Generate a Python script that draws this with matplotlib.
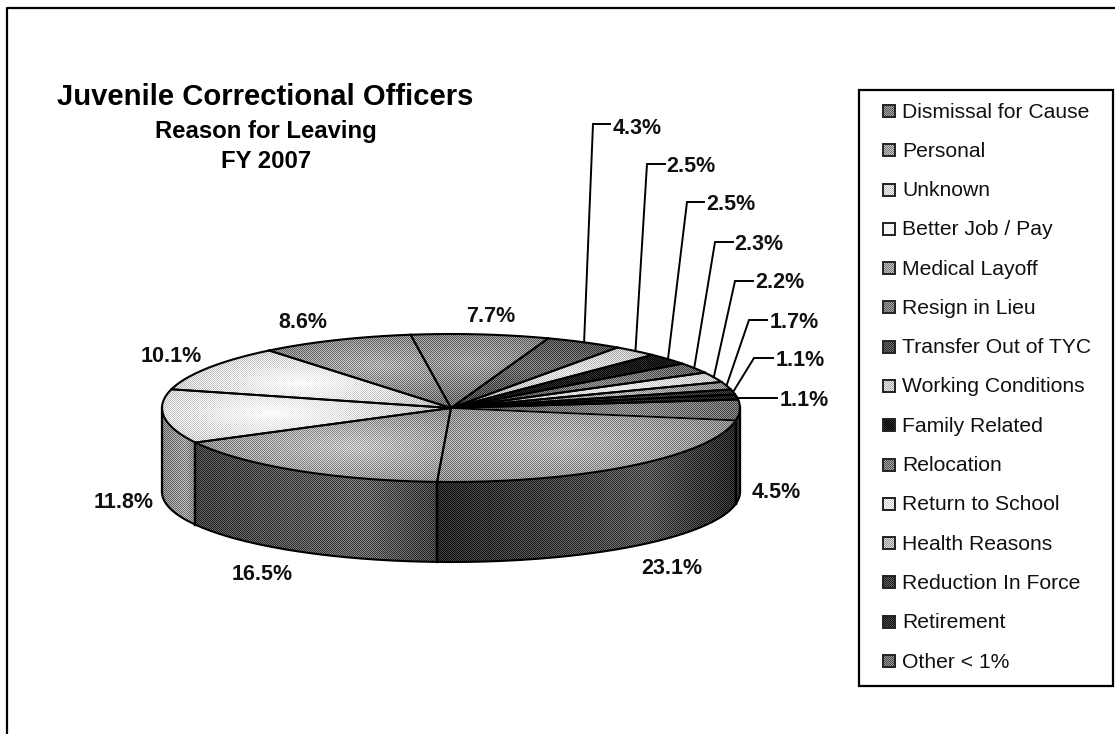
import numpy as np
import matplotlib
matplotlib.use("Agg")
import matplotlib.pyplot as plt
from matplotlib.patches import PathPatch, Rectangle
from matplotlib.path import Path

plt.rcParams['font.family'] = ['Liberation Sans', 'DejaVu Sans']

# share of separations by reason, FY 2007
reasons = ['Dismissal for Cause', 'Personal', 'Unknown', 'Better Job / Pay', 'Medical Layoff',
           'Resign in Lieu', 'Transfer Out of TYC', 'Working Conditions', 'Family Related',
           'Relocation', 'Return to School', 'Health Reasons', 'Reduction In Force',
           'Retirement', 'Other < 1%']
shares = [23.1, 16.5, 11.8, 10.1, 8.6, 7.7, 4.3, 2.5, 2.5, 2.3, 2.2, 1.7, 1.1, 1.1, 4.5]

# grey levels: slice centre, slice edge, side centre, side edge, legend swatch
top_light = [.70, .76, 1.0, 1.0, .68, .62, .42, .88, .12, .50, .92, .70, .26, .18, .52]
top_dark = [.42, .42, .72, .72, .42, .42, .30, .75, .08, .38, .80, .55, .18, .12, .38]
side_light = [.33, .38, .60, .60, .30, .30, .30, .30, .30, .30, .30, .30, .30, .30, .24]
side_dark = [.15, .25, .50, .50, .30, .30, .30, .30, .30, .30, .30, .30, .30, .30, .18]
swatch = [.50, .62, .85, .97, .62, .50, .30, .80, .08, .48, .90, .72, .25, .18, .45]

# label anchor (centre) and leader elbow for each slice
label_xy = [(672, 568), (262, 574), (124, 503), (171, 357), (303, 323), (491, 316),
            (637, 128), (691, 166), (731, 204), (759, 244), (780, 282), (794, 322),
            (800, 360), (804, 400), (776, 493)]
elbows = [None, None, None, None, None, None,
          (593, 124), (647, 164), (687, 202), (715, 242), (735, 281), (749, 320),
          (754, 358), (738, 398), None]
leader_ends = [None, None, None, None, None, None,
               (610, 124), (665, 164), (704, 202), (733, 242), (753, 281), (767, 320),
               (773, 358), (777, 398), None]

W, H = 1115, 734
CX, CY, RX, RY = 451, 408, 289, 74      # top face
BY, BRY = 492, 70                       # bottom rim, a little flatter
START = -9.6

fig = plt.figure(figsize=(W / 100, H / 100), dpi=100)
ax = fig.add_axes([0, 0, 1, 1])
ax.set_xlim(0, W)
ax.set_ylim(H, 0)
ax.axis('off')

X, Y = np.meshgrid(np.arange(W) + .5, np.arange(H) + .5)
checker = (np.indices((H, W)).sum(axis=0) % 2) * 2 - 1


def rim(t, cy=CY, ry=RY):
    t = np.radians(t)
    return np.column_stack([CX + RX * np.cos(t), cy - ry * np.sin(t)])


def fill_dithered(gray, verts):
    # checkerboard halftone, strongest in the mid greys
    amp = .16 * np.sqrt(np.clip(gray * (1 - gray) * 4, 0, 1))
    img = np.clip(gray + checker * amp, 0, 1)
    im = ax.imshow(img, cmap='gray', vmin=0, vmax=1, extent=(0, W, H, 0),
                   interpolation='nearest', aspect='auto', zorder=2)
    clip = PathPatch(Path(verts), transform=ax.transData, fc='none', ec='none')
    ax.add_patch(clip)
    im.set_clip_path(clip)


ends = START - np.cumsum(shares) * 3.6
starts = np.r_[START, ends[:-1]]

# side wall, only the part of each slice facing the viewer
for i in range(len(shares)):
    t0, t1 = starts[i], ends[i]
    # wrap into the front half, -180..0
    lo, hi = max(t1, -180), min(t0, 0)
    if i == len(shares) - 1:
        lo, hi = max(t1 + 360, -180), min(t0 + 360, 0)
    if lo >= hi:
        continue
    ts = np.linspace(hi, lo, 120)
    verts = np.vstack([rim(ts), rim(ts[::-1], BY, BRY)])
    x0, x1 = verts[:, 0].min(), verts[:, 0].max()
    peak = x0 + (x1 - x0) * .7
    s = np.where(X < peak, (peak - X) / (peak - x0 + 1), (X - peak) / (x1 - peak + 1))
    gray = side_light[i] + (side_dark[i] - side_light[i]) * np.clip(s, 0, 1)
    fill_dithered(gray, verts)
    ax.plot(verts[[0, -1], 0], verts[[0, -1], 1], color='k', lw=1.6, zorder=3)
    ax.plot(verts[[119, 120], 0], verts[[119, 120], 1], color='k', lw=1.6, zorder=3)

# top face
for i in range(len(shares)):
    ts = np.linspace(starts[i], ends[i], 120)
    verts = np.vstack([[CX, CY], rim(ts), [CX, CY]])
    mid = np.radians((starts[i] + ends[i]) / 2)
    px, py = .62 * np.cos(mid), .62 * np.sin(mid)
    d = np.hypot((X - CX) / RX - px, (CY - Y) / RY - py)
    reach = max(.3, .6 * np.radians(shares[i] * 3.6) + .3)
    gray = top_light[i] + (top_dark[i] - top_light[i]) * np.clip(d / reach, 0, 1)
    fill_dithered(gray, verts)
    ax.plot(verts[[0, 1], 0], verts[[0, 1], 1], color='#dddddd' if i == 0 else 'k',
            lw=1.4, zorder=4)
    ax.plot(verts[[-2, -1], 0], verts[[-2, -1], 1], color='k', lw=1.4, zorder=4)

# outlines around the drum
ts = np.linspace(0, 360, 400)
ax.plot(*rim(ts).T, color='k', lw=1.5, zorder=5)
front = np.linspace(-180, 0, 200)
ax.plot(*rim(front, BY, BRY).T, color='k', lw=1.5, zorder=5)
for x in (CX - RX, CX + RX):
    ax.plot([x, x], [CY, BY], color='k', lw=1.5, zorder=5)

# percentage labels and leader lines
for i, share in enumerate(shares):
    ax.text(*label_xy[i], f'{share:.1f}%', fontsize=15.5, fontweight='bold',
            ha='center', va='center', color='#111111', zorder=6)
    if elbows[i] is not None:
        mid = (starts[i] + ends[i]) / 2
        p = rim(np.array([mid]))[0]
        ax.plot([p[0], elbows[i][0], leader_ends[i][0]], [p[1], elbows[i][1], leader_ends[i][1]],
                color='k', lw=1.4, zorder=3, solid_joinstyle='miter')

# titles
ax.text(57, 105, 'Juvenile Correctional Officers', fontsize=21.1, fontweight='bold',
        ha='left', va='baseline', color='k')
ax.text(266, 138, 'Reason for Leaving', fontsize=17.2, fontweight='bold',
        ha='center', va='baseline', color='k')
ax.text(266, 168, 'FY 2007', fontsize=17.2, fontweight='bold',
        ha='center', va='baseline', color='k')

# legend box
ax.add_patch(Rectangle((859, 90), 254, 596, fc='white', ec='k', lw=1.6, zorder=2))
row_y = np.linspace(111, 661, len(reasons))
for name, y, g in zip(reasons, row_y, swatch):
    x0, x1, y0, y1 = 883, 895, y - 6, y + 6
    verts = [(x0, y0), (x1, y0), (x1, y1), (x0, y1), (x0, y0)]
    fill_dithered(np.full((H, W), g), verts)
    ax.add_patch(Rectangle((x0, y0), 12, 12, fc='none', ec='#222222', lw=1.4, zorder=3))
    ax.text(902.5, y + 6.5, name, fontsize=15.2, ha='left', va='baseline', color='#111111', zorder=3)

# outer frame runs off the right and bottom edges
ax.plot([6.5, 6.5, W + 5], [H + 5, 8, 8], color='k', lw=1.6, clip_on=False, zorder=1)

fig.savefig('out.png', dpi=100, facecolor='white')
